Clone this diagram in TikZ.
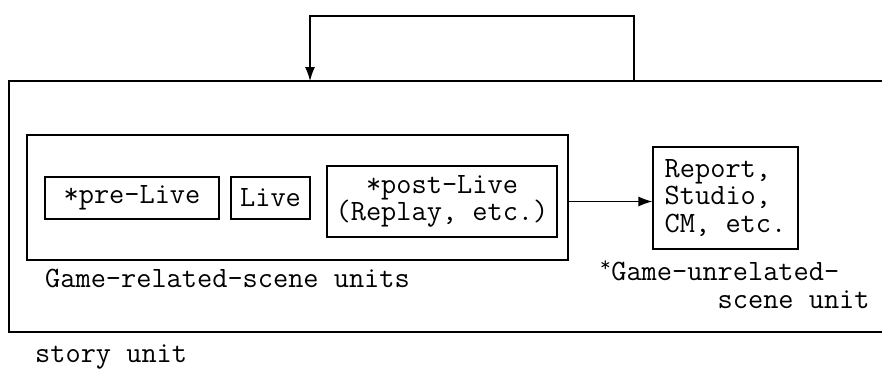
\documentclass[tikz,border=0pt]{standalone}
\usetikzlibrary{%
    arrows.meta,
    calc,
    positioning
}
\tikzset{
    unitbox/.style={draw, line width=1.2pt, inner sep=0pt, align=center},
    flow/.style={line width=1.2pt, -{Latex[length=14pt,width=10pt]}},
    caption/.style={inner sep=0pt, align=left}
}

\begin{document}
\begin{tikzpicture}[x=1pt, y=-1pt, font=\ttfamily\fontsize{29.5}{27.5}\selectfont]
    \useasboundingbox (0,0) rectangle (882,370);

    % story unit (open on the right)
    \coordinate (storyNE) at (882,81);
    \coordinate (storySW) at (9,332);
    \draw[line width=1.2pt] (storyNE) -| (storySW) -- (storySW -| storyNE);
    \node (story) [caption, anchor=west] at (35,357) {story unit};

    % game-related scenes
    \node (game) [unitbox, minimum width=541pt, minimum height=125pt] at (297.5,197.5) {};
    \node (prelive) [unitbox, minimum width=174pt, minimum height=42pt] at (132,198) {*pre-Live};
    \node (live) [unitbox, minimum width=79pt, minimum height=42pt] at (270.5,198) {Live};
    \node (postlive) [unitbox, minimum width=230pt, minimum height=71pt] at (442,201.5)
        {*post-Live\\(Replay, etc.)};
    \node (gamelabel) [caption, anchor=west] at (45,278) {Game-related-scene units};

    % game-unrelated scene
    \node (report) [unitbox, align=left, minimum width=145pt, minimum height=102pt] at (725.5,198)
        {Report,\\Studio,\\CM, etc.};
    \node (reportlabel) [caption, anchor=north west] at (600,261)
        {\textsuperscript{*}Game-unrelated-\\\phantom{\textsuperscript{*}Game-un}scene unit};

    % connectors
    \coordinate (loopout) at (634,81);
    \coordinate (loopin) at (310,81);
    \draw[flow] (game.east |- postlive.east) -- (report.west |- postlive.east);
    \draw[flow] (loopout) -- ++(0,-65) -| (loopin);
\end{tikzpicture}
\end{document}
